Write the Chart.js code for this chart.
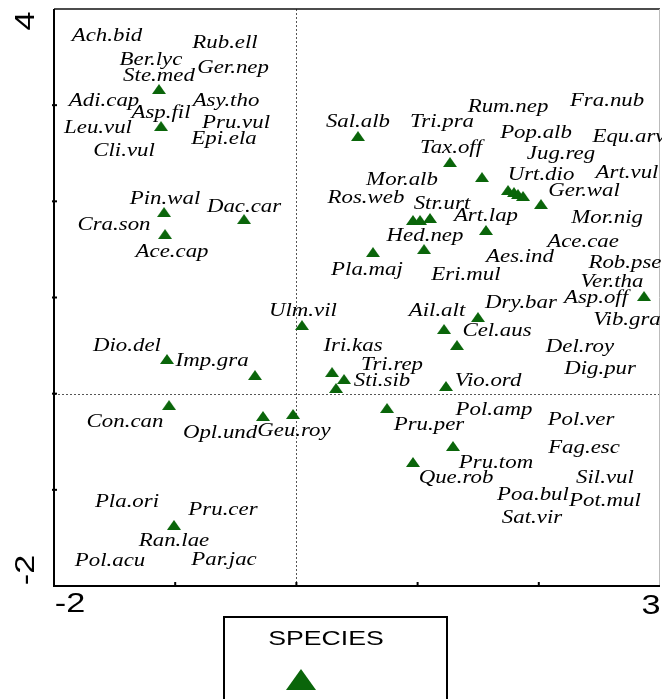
<!DOCTYPE html>
<html><head><meta charset="utf-8">
<script src="https://cdn.jsdelivr.net/npm/chart.js@4.4.1/dist/chart.umd.min.js"></script>
<style>html,body{margin:0;padding:0;background:#fff;overflow:hidden}canvas{display:block}</style>
</head><body>
<canvas id="c" width="662" height="699"></canvas>
<script>
// Species scores (triangles)
const pointX = [-1.134,-1.117,-1.092,-1.084,-0.432,0.508,1.267,1.531,1.746,1.795,1.828,1.870,2.018,0.962,1.020,1.102,1.564,1.053,0.632,2.868,0.046,-1.068,-0.342,-1.051,-0.276,-0.028,0.294,0.393,0.327,1.218,1.498,1.325,1.234,0.748,1.292,0.962,-1.010];
const pointY = [3.168,2.783,1.889,1.660,1.816,2.679,2.409,2.253,2.118,2.097,2.076,2.056,1.972,1.806,1.806,1.827,1.702,1.504,1.473,1.016,0.714,0.361,0.194,-0.118,-0.232,-0.211,0.225,0.153,0.059,0.673,0.797,0.506,0.080,-0.149,-0.544,-0.710,-1.365];

// Species labels and their anchor positions
const labelNames = ["Ach.bid","Rub.ell","Ber.lyc","Ger.nep","Ste.med","Adi.cap","Asy.tho","Asp.fil","Pru.vul","Leu.vul","Epi.ela","Cli.vul","Pin.wal","Dac.car","Cra.son","Ace.cap",
"Fra.nub","Rum.nep","Sal.alb","Tri.pra","Pop.alb","Equ.arv","Tax.off","Jug.reg","Art.vul","Urt.dio","Mor.alb","Ger.wal","Ros.web","Str.urt","Art.lap","Mor.nig","Hed.nep","Ace.cae","Aes.ind","Rob.pse","Pla.maj","Eri.mul","Ver.tha","Asp.off","Dry.bar","Ulm.vil","Ail.alt","Vib.gra","Cel.aus","Dio.del","Iri.kas","Del.roy","Imp.gra","Tri.rep","Dig.pur","Sti.sib","Vio.ord","Pol.amp","Pol.ver","Con.can","Pru.per","Geu.roy","Opl.und","Fag.esc","Pru.tom","Que.rob","Sil.vul","Poa.bul","Pot.mul","Pla.ori","Pru.cer","Sat.vir","Ran.lae","Par.jac","Pol.acu"];
const labelX = [-1.563,-0.589,-1.200,-0.523,-1.134,-1.587,-0.581,-1.117,-0.498,-1.637,-0.597,-1.422,-1.084,-0.432,-1.505,-1.026,
2.563,1.746,0.508,1.201,1.977,2.744,1.276,2.183,2.728,2.018,0.871,2.373,0.574,1.201,1.564,2.563,1.061,2.365,1.845,2.711,0.582,1.399,2.604,2.472,1.853,0.054,1.160,2.728,1.655,-1.398,0.467,2.340,-0.696,0.789,2.505,0.706,1.581,1.630,2.348,-1.414,1.094,-0.020,-0.630,2.373,1.647,1.317,2.546,1.952,2.546,-1.398,-0.606,1.944,-1.010,-0.597,-1.538];
const labelY = [3.719,3.646,3.470,3.387,3.303,3.043,3.043,2.919,2.815,2.763,2.648,2.523,2.024,1.941,1.754,1.473,
3.043,2.981,2.825,2.825,2.711,2.669,2.555,2.492,2.295,2.274,2.222,2.108,2.035,1.972,1.848,1.827,1.640,1.577,1.421,1.359,1.286,1.234,1.161,0.995,0.943,0.860,0.860,0.766,0.652,0.496,0.496,0.486,0.340,0.298,0.257,0.132,0.132,-0.170,-0.274,-0.294,-0.326,-0.388,-0.409,-0.565,-0.721,-0.877,-0.877,-1.054,-1.116,-1.126,-1.210,-1.293,-1.532,-1.729,-1.740];

const xTickLabels = ["-2","3"];
const yTickLabels = ["-2","4"];
const legendTitle = "SPECIES";

const GREEN = '#0a650a';
const STRETCH = 1.27;

function makeTriangle(w, h) {
  const c = document.createElement('canvas');
  c.width = w; c.height = h;
  const g = c.getContext('2d');
  g.fillStyle = GREEN;
  g.beginPath(); g.moveTo(0, h); g.lineTo(w / 2, 0); g.lineTo(w, h); g.closePath(); g.fill();
  return c;
}
const tri = makeTriangle(14, 10);

function sText(ctx, text, x, y, font, rot, align) {
  ctx.save();
  ctx.translate(x, y);
  if (rot) ctx.rotate(rot);
  ctx.scale(STRETCH, 1);
  ctx.font = font;
  ctx.fillStyle = '#000';
  ctx.textAlign = align || 'center';
  ctx.textBaseline = 'middle';
  ctx.fillText(text, 0, 0);
  ctx.restore();
}

const framePlugin = {
  id: 'frame',
  beforeDatasetsDraw(chart) {
    const ctx = chart.ctx, a = chart.chartArea;
    const xs = chart.scales.x, ys = chart.scales.y;
    ctx.save();
    // dotted zero lines
    ctx.strokeStyle = '#555';
    ctx.lineWidth = 1;
    ctx.setLineDash([2, 2]);
    const x0 = Math.round(xs.getPixelForValue(0)) + 0.5;
    const y0 = Math.round(ys.getPixelForValue(0)) + 0.5;
    ctx.beginPath(); ctx.moveTo(x0, a.top); ctx.lineTo(x0, a.bottom); ctx.stroke();
    ctx.beginPath(); ctx.moveTo(a.left, y0); ctx.lineTo(a.right, y0); ctx.stroke();
    ctx.setLineDash([]);
    // frame
    ctx.strokeStyle = '#111';
    ctx.lineWidth = 1.5;
    ctx.beginPath(); ctx.moveTo(a.left, a.top); ctx.lineTo(a.right, a.top); ctx.stroke();
    ctx.strokeStyle = '#bbb';
    ctx.lineWidth = 1;
    ctx.beginPath(); ctx.moveTo(a.right - 0.5, a.top); ctx.lineTo(a.right - 0.5, a.bottom); ctx.stroke();
    ctx.strokeStyle = '#000';
    ctx.lineWidth = 2;
    ctx.beginPath(); ctx.moveTo(a.left, a.top); ctx.lineTo(a.left, a.bottom); ctx.lineTo(a.right, a.bottom); ctx.stroke();
    // ticks
    ctx.lineWidth = 2;
    [-1, 0, 1, 2, 3].forEach(v => {
      const p = ys.getPixelForValue(v);
      ctx.beginPath(); ctx.moveTo(a.left - 2, p); ctx.lineTo(a.left + 3, p); ctx.stroke();
    });
    [-1, 0, 1, 2].forEach(v => {
      const p = xs.getPixelForValue(v);
      ctx.beginPath(); ctx.moveTo(p, a.bottom + 1); ctx.lineTo(p, a.bottom - 4); ctx.stroke();
    });
    // axis end labels
    const f = '27px "Liberation Sans", Arial, sans-serif';
    sText(ctx, xTickLabels[0], xs.getPixelForValue(-2) + 16, a.bottom + 19, f);
    sText(ctx, xTickLabels[1], xs.getPixelForValue(3) - 9, a.bottom + 21, f);
    sText(ctx, yTickLabels[1], 27, ys.getPixelForValue(4) + 12, f, -Math.PI / 2);
    sText(ctx, yTickLabels[0], 27, ys.getPixelForValue(-2) - 16, f, -Math.PI / 2);
    ctx.restore();
  },
  afterDatasetsDraw(chart) {
    const ctx = chart.ctx;
    const meta = chart.getDatasetMeta(1);
    meta.data.forEach((el, i) => {
      sText(ctx, labelNames[i], el.x, el.y, 'italic 18px "Liberation Serif", "Times New Roman", serif');
    });
    // legend box
    ctx.save();
    ctx.strokeStyle = '#000';
    ctx.lineWidth = 2;
    ctx.strokeRect(224, 617, 223, 100);
    sText(ctx, legendTitle, 326, 639, '21px "Liberation Sans", Arial, sans-serif');
    ctx.fillStyle = GREEN;
    ctx.beginPath(); ctx.moveTo(286, 690); ctx.lineTo(301, 669); ctx.lineTo(316, 690); ctx.closePath(); ctx.fill();
    ctx.restore();
  }
};

new Chart(document.getElementById('c'), {
  type: 'scatter',
  data: {
    datasets: [
      {
        label: 'Species',
        data: pointX.map((x, i) => ({ x: x, y: pointY[i] })),
        pointStyle: tri,
        pointRadius: 7,
        pointHoverRadius: 7
      },
      {
        label: 'Labels',
        data: labelX.map((x, i) => ({ x: x, y: labelY[i] })),
        pointRadius: 0,
        pointHoverRadius: 0
      }
    ]
  },
  options: {
    responsive: false,
    animation: false,
    devicePixelRatio: 1,
    layout: { autoPadding: false, padding: { left: 54, top: 9, right: 2, bottom: 113 } },
    plugins: { legend: { display: false }, tooltip: { enabled: false } },
    scales: {
      x: { type: 'linear', min: -2, max: 3, display: false },
      y: { type: 'linear', min: -2, max: 4, display: false }
    }
  },
  plugins: [framePlugin]
});
</script>
</body></html>
